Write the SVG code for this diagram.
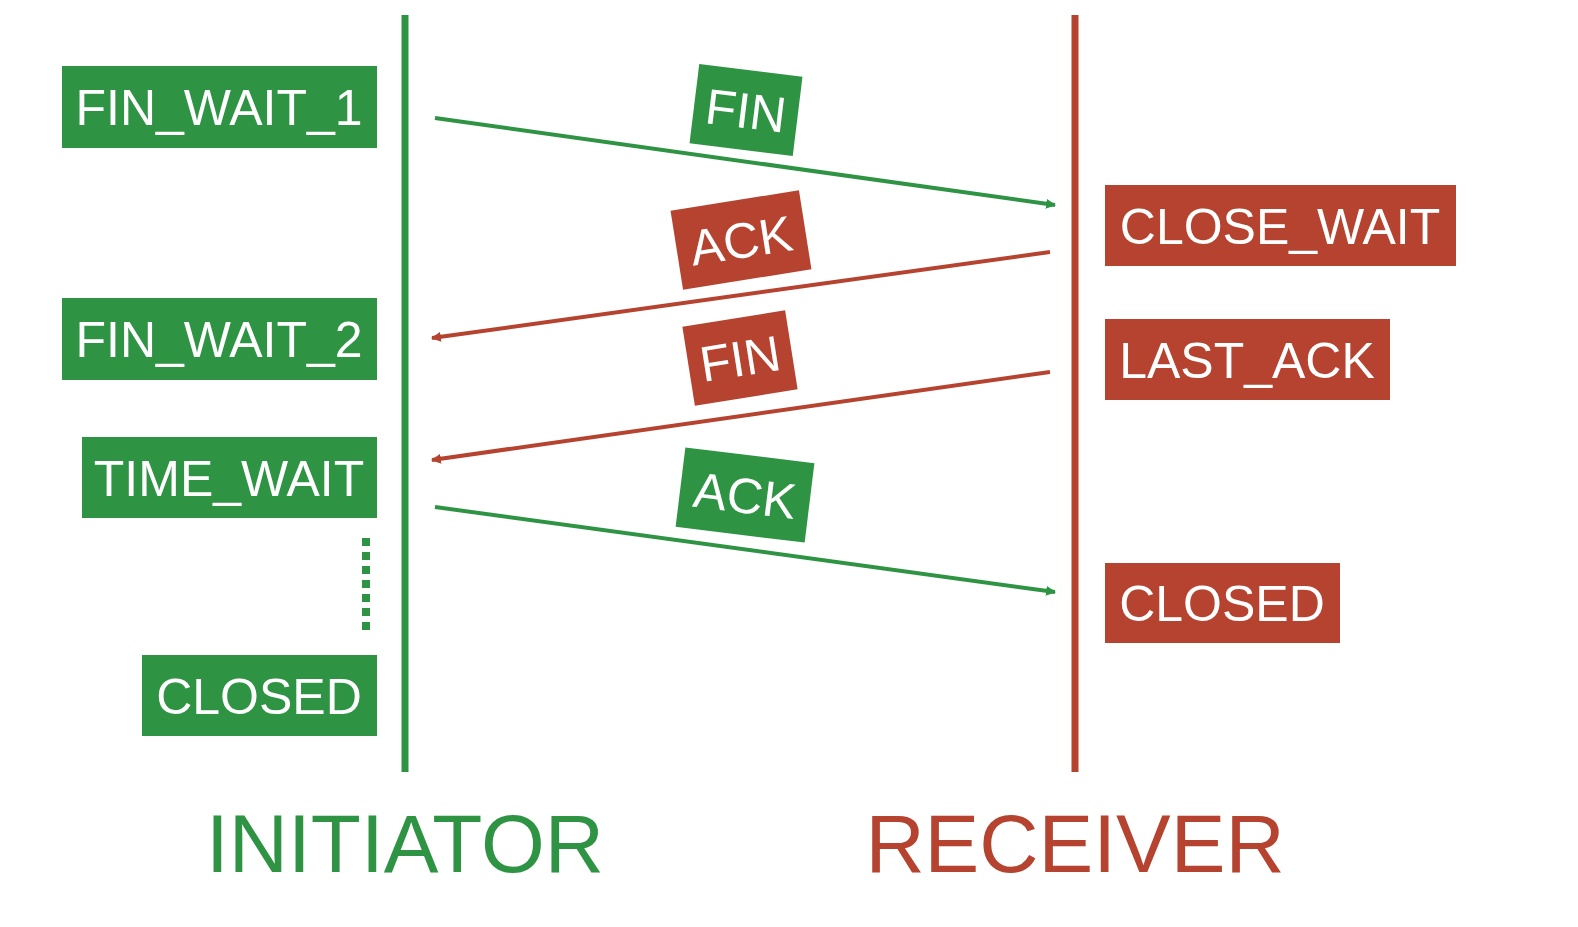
<svg xmlns="http://www.w3.org/2000/svg" width="1578" height="927" viewBox="0 0 1578 927">
<style>
.g{fill:#2e9444}.r{fill:#b5432f}
.t{font-family:"Liberation Sans",Arial,sans-serif;font-size:50px;fill:#fff}
.big{font-family:"Liberation Sans",Arial,sans-serif;font-size:82px;text-anchor:middle}
</style>
<defs>
<marker id="ag" markerWidth="10" markerHeight="10" refX="9" refY="5" orient="auto" markerUnits="userSpaceOnUse" viewBox="0 0 10 10"><path d="M0,0 L10,5 L0,10 z" fill="#2e9444"/></marker>
<marker id="ar" markerWidth="10" markerHeight="10" refX="9" refY="5" orient="auto" markerUnits="userSpaceOnUse" viewBox="0 0 10 10"><path d="M0,0 L10,5 L0,10 z" fill="#b5432f"/></marker>
</defs>
<rect width="1578" height="927" fill="#fff"/>
<g id="lifelines">
<line x1="405" y1="15" x2="405" y2="772" stroke="#2e9444" stroke-width="7"/>
<line x1="1075" y1="15" x2="1075" y2="772" stroke="#b5432f" stroke-width="7"/>
<line x1="366" y1="538" x2="366" y2="636" stroke="#2e9444" stroke-width="8" stroke-dasharray="8,6"/>
</g>
<g id="connectors" stroke-width="4">
<line x1="435" y1="118" x2="1055" y2="205" stroke="#2e9444" marker-end="url(#ag)" style="stroke-width:4"/>
<line x1="1050" y1="252" x2="432" y2="338" stroke="#b5432f" marker-end="url(#ar)"/>
<line x1="1050" y1="372" x2="432" y2="460" stroke="#b5432f" marker-end="url(#ar)"/>
<line x1="435" y1="507" x2="1055" y2="592" stroke="#2e9444" marker-end="url(#ag)"/>
</g>
<style>marker path{transform:scale(1)}</style>
<g id="fin_wait_1"><rect class="g" x="62" y="66" width="315" height="82"/><text class="t" x="219" y="125" text-anchor="middle">FIN_WAIT_1</text></g>
<g id="fin_wait_2"><rect class="g" x="62" y="298" width="315" height="82"/><text class="t" x="219" y="357" text-anchor="middle">FIN_WAIT_2</text></g>
<g id="time_wait"><rect class="g" x="82" y="437" width="295" height="81"/><text class="t" x="229" y="496" text-anchor="middle">TIME_WAIT</text></g>
<g id="closed_i"><rect class="g" x="142" y="655" width="235" height="81"/><text class="t" x="259" y="714" text-anchor="middle">CLOSED</text></g>
<g id="close_wait"><rect class="r" x="1105" y="185" width="351" height="81"/><text class="t" x="1280" y="244" text-anchor="middle">CLOSE_WAIT</text></g>
<g id="last_ack"><rect class="r" x="1105" y="319" width="285" height="81"/><text class="t" x="1247" y="378" text-anchor="middle">LAST_ACK</text></g>
<g id="closed_r"><rect class="r" x="1105" y="563" width="235" height="80"/><text class="t" x="1222" y="621" text-anchor="middle">CLOSED</text></g>
<g id="lbl_fin1" transform="translate(746,110) rotate(7)"><rect class="g" x="-52" y="-40" width="104" height="80"/><text class="t" y="18" text-anchor="middle">FIN</text></g>
<g id="lbl_ack1" transform="translate(741,240) rotate(-9)"><rect class="r" x="-65" y="-40" width="130" height="80"/><text class="t" y="18" text-anchor="middle">ACK</text></g>
<g id="lbl_fin2" transform="translate(740,358) rotate(-9)"><rect class="r" x="-52" y="-40" width="104" height="80"/><text class="t" y="18" text-anchor="middle">FIN</text></g>
<g id="lbl_ack2" transform="translate(745,495) rotate(7)"><rect class="g" x="-65" y="-40" width="130" height="80"/><text class="t" y="18" text-anchor="middle">ACK</text></g>
<text class="big" x="405" y="872" fill="#2e9444">INITIATOR</text>
<text class="big" x="1075" y="872" fill="#b5432f">RECEIVER</text>
</svg>
